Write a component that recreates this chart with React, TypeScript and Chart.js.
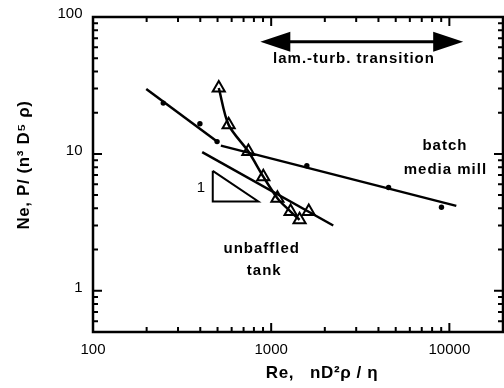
import { useEffect, useRef } from "react";
import { Chart, registerables } from "chart.js";

Chart.register(...registerables);

// ---- data (Re, Ne) ----
const millRe = [248, 398, 497, 1585, 4560, 9030];
const millNe = [23.5, 16.6, 12.3, 8.2, 5.68, 4.08];
const millFitLowRe = [199, 497];
const millFitLowNe = [29.8, 12.3];
const millFitHighRe = [522, 10940];
const millFitHighNe = [11.5, 4.17];
const tankRe = [508, 577, 745, 903, 1084, 1285, 1443, 1625];
const tankNe = [30.3, 16.3, 10.4, 6.82, 4.75, 3.79, 3.3, 3.79];
const tankCurveCount = 7;
const tankFitRe = [410, 2230];
const tankFitNe = [10.3, 3.0];
const slopeRe = [470, 470, 847, 470];
const slopeNe = [7.52, 4.49, 4.49, 7.52];
const arrowRe = [869, 11960];
const arrowNe = 66;

const xRange = [100, 20000];
const yRange = [0.5, 100];
const xTickLabels = [100, 1000, 10000];
const yTickLabels = [1, 10, 100];
const xTitle = "Re,   nD²ρ / η";
const yTitle = "Ne, P/ (n³ D⁵ ρ)";

const notes = [
  { text: "lam.-turb. transition", re: 2917, ne: 45.9, bold: true },
  { text: "batch", re: 9440, ne: 10.7, bold: true },
  { text: "media mill", re: 9500, ne: 7.14, bold: true },
  { text: "unbaffled", re: 885, ne: 1.904, bold: true },
  { text: "tank", re: 914, ne: 1.31, bold: true },
  { text: "1", re: 403, ne: 5.31, bold: false },
];

const pts = (xs: number[], ys: number[]) => xs.map((v, i) => ({ x: v, y: ys[i] }));
const FONT = '"Liberation Sans", Arial, sans-serif';

const framePlugin = {
  id: "frame",
  afterDraw(chart: any) {
    const { ctx, chartArea } = chart;
    const { left, top, right, bottom } = chartArea;
    const x = chart.scales.x;
    const y = chart.scales.y;
    ctx.save();
    ctx.strokeStyle = "#000";
    ctx.fillStyle = "#000";
    ctx.lineWidth = 2.5;
    ctx.strokeRect(left, top, right - left, bottom - top);

    ctx.lineWidth = 2;
    // x ticks
    for (let e = 2; e <= 4; e++) {
      for (let m = 1; m <= 9; m++) {
        const v = m * Math.pow(10, e);
        if (v < xRange[0] || v > xRange[1]) continue;
        const px = x.getPixelForValue(v);
        const len = m === 1 ? 9 : 5;
        ctx.beginPath();
        ctx.moveTo(px, bottom);
        ctx.lineTo(px, bottom - len);
        ctx.moveTo(px, top);
        ctx.lineTo(px, top + len);
        ctx.stroke();
      }
    }
    // y ticks
    for (let e = -1; e <= 2; e++) {
      for (let m = 1; m <= 9; m++) {
        const v = m * Math.pow(10, e);
        if (v < yRange[0] - 1e-9 || v > yRange[1] + 1e-9) continue;
        const py = y.getPixelForValue(v);
        const len = m === 1 ? 9 : 5;
        ctx.beginPath();
        ctx.moveTo(left, py);
        ctx.lineTo(left + len, py);
        ctx.moveTo(right, py);
        ctx.lineTo(right - len, py);
        ctx.stroke();
      }
    }

    // tick labels
    ctx.font = `15px ${FONT}`;
    ctx.textAlign = "center";
    ctx.textBaseline = "alphabetic";
    xTickLabels.forEach((v) => {
      ctx.fillText(String(v), x.getPixelForValue(v), bottom + 22);
    });
    ctx.textAlign = "right";
    ctx.textBaseline = "middle";
    yTickLabels.forEach((v) => {
      ctx.fillText(String(v), left - 10.5, y.getPixelForValue(v) - 3);
    });

    // titles
    ctx.font = `bold 17px ${FONT}`;
    (ctx as any).letterSpacing = "0.6px";
    ctx.textAlign = "center";
    ctx.textBaseline = "alphabetic";
    ctx.fillText(xTitle, 322, bottom + 46);
    ctx.save();
    ctx.translate(29, 165);
    ctx.rotate(-Math.PI / 2);
    ctx.fillText(yTitle, 0, 0);
    ctx.restore();

    // notes
    notes.forEach((n) => {
      ctx.font = n.bold ? `bold 15px ${FONT}` : `15px ${FONT}`;
      (ctx as any).letterSpacing = n.bold ? "1px" : "0px";
      ctx.textAlign = "center";
      ctx.textBaseline = "alphabetic";
      ctx.fillText(n.text, x.getPixelForValue(n.re), y.getPixelForValue(n.ne));
    });
    (ctx as any).letterSpacing = "0px";

    // double arrow
    const ax1 = x.getPixelForValue(arrowRe[0]);
    const ax2 = x.getPixelForValue(arrowRe[1]);
    const ay = y.getPixelForValue(arrowNe);
    const hl = 30;
    const hh = 10;
    ctx.lineWidth = 3;
    ctx.beginPath();
    ctx.moveTo(ax1 + hl - 2, ay);
    ctx.lineTo(ax2 - hl + 2, ay);
    ctx.stroke();
    ctx.beginPath();
    ctx.moveTo(ax1, ay);
    ctx.lineTo(ax1 + hl, ay - hh);
    ctx.lineTo(ax1 + hl, ay + hh);
    ctx.closePath();
    ctx.fill();
    ctx.beginPath();
    ctx.moveTo(ax2, ay);
    ctx.lineTo(ax2 - hl, ay - hh);
    ctx.lineTo(ax2 - hl, ay + hh);
    ctx.closePath();
    ctx.fill();
    ctx.restore();
  },
};

export default function App() {
  const ref = useRef<HTMLCanvasElement | null>(null);
  useEffect(() => {
    if (!ref.current) return;
    const lineDs = (data: any[], width: number, extra: any = {}) => ({
      type: "line",
      data,
      showLine: true,
      borderColor: "#000",
      borderWidth: width,
      pointRadius: 0,
      fill: false,
      tension: 0,
      ...extra,
    });
    const chart = new Chart(ref.current, {
      type: "scatter",
      data: {
        datasets: [
          {
            data: pts(tankRe, tankNe),
            pointStyle: "triangle",
            pointRadius: 7,
            borderWidth: 2,
            borderColor: "#000",
            backgroundColor: "rgba(0,0,0,0)",
            order: 0,
          },
          {
            data: pts(millRe, millNe),
            pointRadius: 2.7,
            borderWidth: 0,
            backgroundColor: "#000",
            order: 1,
          },
          lineDs(pts(tankRe.slice(0, tankCurveCount), tankNe.slice(0, tankCurveCount)), 2.5, {
            tension: 0.3,
            order: 2,
          }),
          lineDs(pts(millFitLowRe, millFitLowNe), 2.5, { order: 3 }),
          lineDs(pts(millFitHighRe, millFitHighNe), 2.5, { order: 4 }),
          lineDs(pts(tankFitRe, tankFitNe), 2.5, { order: 5 }),
          lineDs(pts(slopeRe, slopeNe), 2, { order: 6 }),
        ] as any,
      },
      options: {
        animation: false,
        responsive: false,
        maintainAspectRatio: false,
        layout: { padding: { left: 93, top: 17, right: 6, bottom: 56 } },
        plugins: { legend: { display: false }, tooltip: { enabled: false } },
        events: [],
        scales: {
          x: { type: "logarithmic", min: xRange[0], max: xRange[1], display: false },
          y: { type: "logarithmic", min: yRange[0], max: yRange[1], display: false },
        },
      },
      plugins: [framePlugin],
    });
    return () => chart.destroy();
  }, []);
  return (
    <div
      style={{
        position: "fixed",
        left: 0,
        top: 0,
        width: 504,
        height: 388,
        overflow: "hidden",
        background: "#fff",
      }}
    >
      <canvas ref={ref} width={512} height={388} style={{ display: "block", width: 512, height: 388 }} />
    </div>
  );
}
